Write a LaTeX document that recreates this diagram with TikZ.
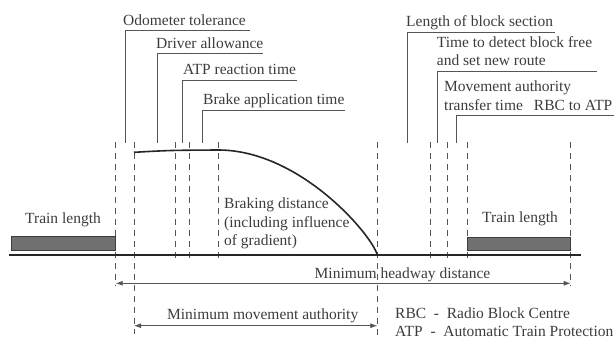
\documentclass[tikz,border=0pt]{standalone}
\usepackage{fontspec}
\setmainfont{Liberation Serif}
\usetikzlibrary{arrows.meta}
\definecolor{ink}{HTML}{3C3C3C}
\definecolor{wire}{HTML}{555555}
\definecolor{car}{HTML}{707070}

\begin{document}
\begin{tikzpicture}[x=1pt, y=-1pt,
  every node/.style={inner sep=0pt, text=ink, font=\fontsize{15.5}{18.5}\selectfont},
  lbl/.style={anchor=base west, align=left},
  lead/.style={draw=wire, line width=0.8pt},
  guide/.style={draw=wire, line width=0.8pt, dash pattern=on 6pt off 5pt},
  track/.style={draw=black!85, line width=2.2pt},
  brake/.style={draw=black!85, line width=1.6pt},
  train/.style={draw=ink, fill=car, line width=1pt},
  span/.style={draw=wire, line width=0.8pt, {Latex[length=7pt,width=5pt]}-{Latex[length=7pt,width=5pt]}}
]
\useasboundingbox (0,0) rectangle (614,340);

\foreach \n/\x/\b in {1/115.7/286, 2/134/334, 3/175/262, 4/189.3/262, 5/218.3/262,
                      6/377.3/337, 7/430/262, 8/447.7/262, 9/467.7/262, 10/570.7/286} {
  \coordinate (g\n) at (\x,142);
  \coordinate (g\n b) at (\x,\b);
  \draw[guide] (g\n) -- (g\n b);
}

\coordinate (tL) at (9,255);
\coordinate (tR) at (580.7,255);
\draw[track] (tL) -- (tR);
\draw[train] (11.7,236.3) rectangle (115.7,250);
\draw[train] (467.7,237) rectangle (570.7,250.5);
\draw[brake] (134,152.3) .. controls (170,150.3) .. (218.3,150)
  .. controls (300,150) and (372,235) .. (377.3,255);

\node[anchor=base] (lenA) at (63,223.3) {Train length};
\node[anchor=base] (lenB) at (520,222.3) {Train length};
\node[lbl] (brd) at (224,245.5) {Braking distance\\(including influence\\of gradient)};

\node[lbl] (odo) at (123,25) {Odometer tolerance};
\node[lbl] (drv) at (156,48) {Driver allowance};
\node[lbl] (atp) at (183,74.5) {ATP reaction time};
\node[lbl] (brk) at (203,104.5) {Brake application time};
\node[lbl] (blk) at (406,27) {Length of block section};
\node[lbl] (det) at (436.7,65.5) {Time to detect block free\\and set new route};
\node[lbl] (mat) at (444,110) {Movement authority\\transfer time\hspace{11pt}RBC to ATP};

\coordinate (odoF) at (125,143);   \coordinate (odoE) at (250,30);
\coordinate (drvF) at (157.7,143); \coordinate (drvE) at (263,53.5);
\coordinate (atpF) at (182.7,143); \coordinate (atpE) at (297,80);
\coordinate (brkF) at (202.7,143); \coordinate (brkE) at (345,110);
\coordinate (blkF) at (407.3,143); \coordinate (blkE) at (555,32.3);
\coordinate (detF) at (437.7,143); \coordinate (detE) at (596.7,71);
\coordinate (matF) at (456.7,143); \coordinate (matE) at (614,115.7);
\foreach \k in {odo,drv,atp,brk,blk,det,mat}
  \draw[lead] (\k F) |- (\k E);

\coordinate (hwL) at (115.7,283.3);
\coordinate (hwR) at (570.7,283.3);
\draw[span] (hwL) -- (hwR);
\node[anchor=base] (hw) at (402.5,278.3) {Minimum headway distance};

\coordinate (maL) at (134,325.7);
\coordinate (maR) at (377.3,325.7);
\draw[span] (maL) -- (maR);
\node[anchor=base] (mma) at (262.7,319) {Minimum movement authority};

\node[lbl] (rbc) at (395,318.5) {RBC\ \ -\ \ Radio Block Centre};
\node[lbl] (atpk) at (395,336) {ATP\ \ -\ \ Automatic Train Protection};
\end{tikzpicture}
\end{document}
